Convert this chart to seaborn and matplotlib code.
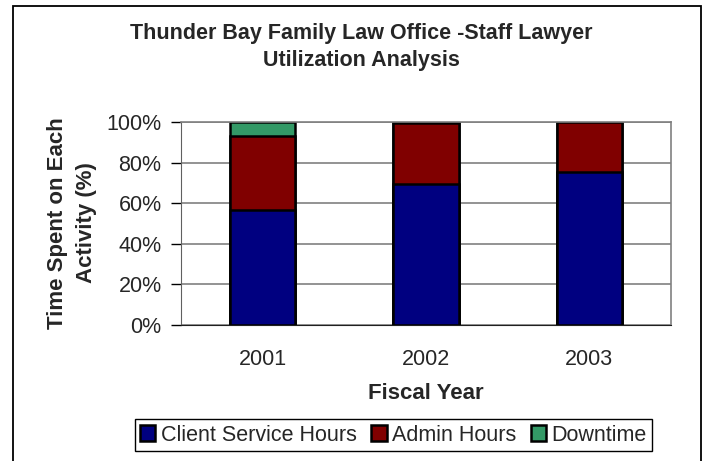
import matplotlib
matplotlib.use("Agg")
from matplotlib import pyplot as plt
from matplotlib.patches import Rectangle
from matplotlib.ticker import PercentFormatter, FixedLocator
import seaborn as sns
import pandas as pd

years = ["2001", "2002", "2003"]
client_hours = [56.7, 69.5, 75.2]
admin_hours = [36.6, 29.8, 24.8]
downtime = [6.7, 0.7, 0.0]

series_names = ["Client Service Hours", "Admin Hours", "Downtime"]
colors = ["#000080", "#800000", "#339966"]

sns.set_style("white")
plt.rcParams["font.family"] = ["Liberation Sans", "DejaVu Sans"]

# cumulative tops so the stack can be drawn back to front
df = pd.DataFrame({"year": years, "client": client_hours, "admin": admin_hours, "down": downtime})
df["top_admin"] = df["client"] + df["admin"]
df["top_down"] = df["top_admin"] + df["down"]

fig = plt.figure(figsize=(7.06, 4.61), dpi=100)
ax = fig.add_axes([181 / 706, 1 - 325 / 461, 490 / 706, 203 / 461])

handles = {}
for col, name, color in [("top_down", series_names[2], colors[2]),
                         ("top_admin", series_names[1], colors[1]),
                         ("client", series_names[0], colors[0])]:
    sns.barplot(data=df, x="year", y=col, color=color, width=0.4, saturation=1,
                edgecolor="black", linewidth=1.8, ax=ax, label=name)
    handles[name] = ax.containers[-1]

ax.set_xlim(-0.5, 2.5)
ax.set_ylim(0, 100)
ax.yaxis.set_major_formatter(PercentFormatter(decimals=0))
ax.set_yticks([0, 20, 40, 60, 80, 100])
ax.yaxis.grid(True, color="#808080", linewidth=1.2)
ax.set_axisbelow(True)

# category boundary tick marks on x, labels centred under bars
ax.xaxis.set_minor_locator(FixedLocator([-0.5, 0.5, 1.5, 2.5]))
ax.tick_params(axis="x", which="major", length=0, pad=17, labelsize=15.5)
ax.tick_params(axis="x", which="minor", length=7, width=1, color="black", direction="out")
ax.tick_params(axis="y", length=7, width=1, color="black", direction="out", pad=7, labelsize=15.5, left=True)

for side in ["top", "right"]:
    ax.spines[side].set_visible(True)
    ax.spines[side].set_color("#808080")
    ax.spines[side].set_linewidth(1.2)
ax.spines["left"].set_color("#606060")
ax.spines["bottom"].set_color("#202020")

ax.set_ylabel("")
ax.set_xlabel("Fiscal Year", fontsize=16, weight="bold")
ax.xaxis.set_label_coords(0.5, -0.285)

fig.text(72 / 706, 1 - 223 / 461, "Time Spent on Each\nActivity (%)", rotation=90,
         ha="center", va="center", fontsize=16, weight="bold", linespacing=1.45)

fig.text(361 / 706, 1 - 47 / 461, "Thunder Bay Family Law Office -Staff Lawyer\nUtilization Analysis",
         ha="center", va="center", fontsize=15.5, weight="bold", linespacing=1.4)

leg = ax.legend([handles[n] for n in series_names], series_names, ncol=3,
                loc="center", bbox_to_anchor=(393.5 / 706, 1 - 435 / 461),
                bbox_transform=fig.transFigure, fontsize=15.5, frameon=True,
                fancybox=False, framealpha=1, edgecolor="black",
                handlelength=0.7, handleheight=0.7, handletextpad=0.25,
                columnspacing=0.7, borderpad=0.25, borderaxespad=0)
leg.get_frame().set_linewidth(1.0)

fig.patches.append(Rectangle((12.5 / 706, -0.05), (701 - 12.5) / 706, 1 - 6.5 / 461 + 0.05,
                             transform=fig.transFigure, fill=False, edgecolor="black", linewidth=1.3))

fig.savefig("out.png", dpi=100)
